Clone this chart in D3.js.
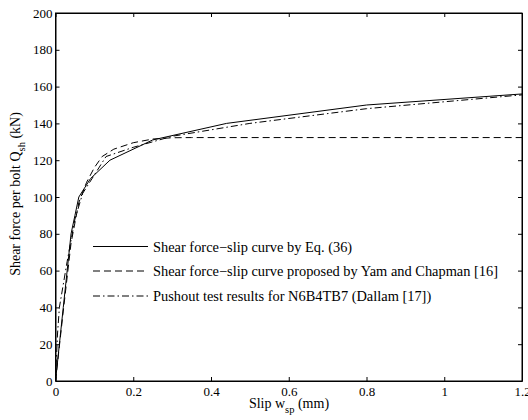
<!DOCTYPE html>
<html><head><meta charset="utf-8">
<script src="https://cdn.jsdelivr.net/npm/d3@7"></script>
<style>
body{margin:0;background:#fff;}
</style></head>
<body><svg id="c" width="528" height="420"></svg>
<script>
const xTicks=[0,0.2,0.4,0.6,0.8,1,1.2];
const yTicks=[0,20,40,60,80,100,120,140,160,180,200];
const solidX=[0,0.02,0.04,0.05,0.06,0.09,0.14,0.25,0.44,0.8,1.2];
const solidY=[0,40,80,90,100,110,120,131,140,150,156];
const dashX=[0,0.02,0.04,0.06,0.08,0.1,0.12,0.15,0.2,0.25,0.3,0.35,1.2];
const dashY=[0,38,75,97,108,116,122,126,129.5,131.5,132.2,132.3,132.3];
const dotX=[0,0.005,0.01,0.03,0.05,0.07,0.1,0.13,0.2,0.3,0.5,0.8,1.2];
const dotY=[0,25,40,65,88,102,112,122,127,133,140,148,155.5];
const labels=["Shear force\u2212slip curve by Eq. (36)","Shear force\u2212slip curve proposed by Yam and Chapman [16]","Pushout test results for N6B4TB7 (Dallam [17])"];
const dashes=[null,"7,4","7,3,1.5,3"];

const FONT="Liberation Serif";
const svg=d3.select("#c");
const L=55.5,R=522,T=13,B=381;
const x=d3.scaleLinear().domain([0,1.2]).range([L,R]);
const y=d3.scaleLinear().domain([0,200]).range([B,T]);
const series=[[solidX,solidY],[dashX,dashY],[dotX,dotY]];
const line=d3.line().x(d=>x(d[0])).y(d=>y(d[1]));
series.forEach((s,i)=>{
  const pts=s[0].map((v,j)=>[v,s[1][j]]);
  svg.append("path").attr("d",line(pts)).attr("fill","none").attr("stroke","#000").attr("stroke-width",1)
    .attr("stroke-dasharray",dashes[i]);
});
const fmt=d=>String(d);
svg.append("g").attr("transform",`translate(0,${B})`).call(d3.axisBottom(x).tickValues(xTicks).tickFormat(fmt).tickSizeInner(-4).tickSizeOuter(0).tickPadding(6));
svg.append("g").attr("transform",`translate(0,${T})`).call(d3.axisTop(x).tickValues(xTicks).tickFormat("").tickSizeInner(-4).tickSizeOuter(0));
svg.append("g").attr("transform",`translate(${L},0)`).call(d3.axisLeft(y).tickValues(yTicks).tickFormat(fmt).tickSizeInner(-4).tickSizeOuter(0).tickPadding(3));
svg.append("g").attr("transform",`translate(${R},0)`).call(d3.axisRight(y).tickValues(yTicks).tickFormat("").tickSizeInner(-4).tickSizeOuter(0));
svg.selectAll("g").attr("font-family",FONT).attr("font-size",13);
svg.selectAll(".domain").attr("stroke","#000");
svg.selectAll(".tick text").attr("fill","#000").attr("font-family",FONT).attr("font-size",13);
svg.append("rect").attr("x",L).attr("y",T).attr("width",R-L).attr("height",B-T).attr("fill","none").attr("stroke","#000");
const ly=[246.5,271,296];
labels.forEach((t,i)=>{
  svg.append("line").attr("x1",93).attr("x2",148).attr("y1",ly[i]).attr("y2",ly[i]).attr("stroke","#000").attr("stroke-width",1).attr("stroke-dasharray",dashes[i]);
  svg.append("text").attr("x",153).attr("y",ly[i]+5).attr("font-family",FONT).attr("font-size",14.4).text(t);
});
const xl=svg.append("text").attr("x",289).attr("y",408).attr("text-anchor","middle").attr("font-family",FONT).attr("font-size",14);
xl.append("tspan").text("Slip w");
xl.append("tspan").attr("dy",5).attr("font-size",10.5).text("sp");
xl.append("tspan").attr("dy",-5).text(" (mm)");
const yl=svg.append("text").attr("transform","translate(20,194) rotate(-90)").attr("text-anchor","middle").attr("font-family",FONT).attr("font-size",14);
yl.append("tspan").text("Shear force per bolt Q");
yl.append("tspan").attr("dy",5).attr("font-size",10.5).text("sh");
yl.append("tspan").attr("dy",-5).text(" (kN)");
</script></body></html>
